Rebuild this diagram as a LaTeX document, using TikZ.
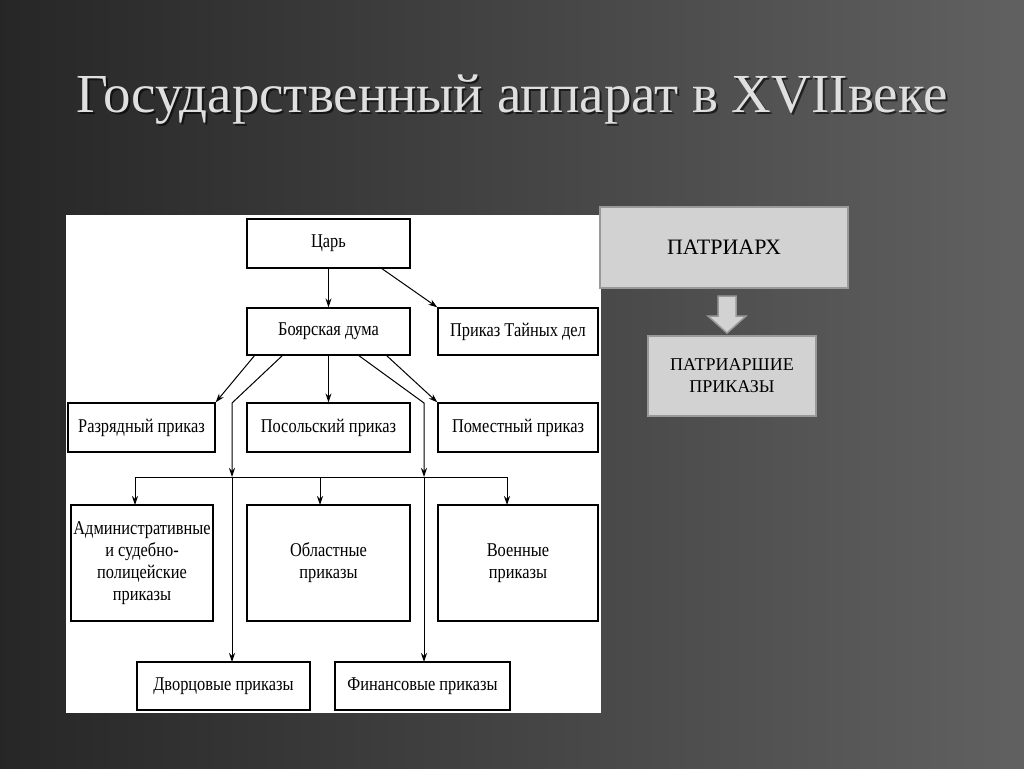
\documentclass[tikz,border=0pt]{standalone}
\usepackage{fontspec}
\setmainfont{Liberation Serif}
\newfontfamily\condf[FakeStretch=0.84]{Liberation Serif}
\usetikzlibrary{arrows.meta}
\begin{document}
\begin{tikzpicture}[x=1pt,y=-1pt,
 bx/.style={draw=black,line width=1.3pt,fill=white,inner sep=0pt,font=\condf\fontsize{19.5}{22}\selectfont,align=center},
 ar/.style={-{Stealth[length=9pt,width=6pt]},line width=1pt},
 pb/.style={draw=gray!80,line width=2pt,fill=gray!35,inner sep=0pt,font=\fontsize{22}{25}\selectfont,align=center}]
\shade[left color=black!85,right color=black!62] (0,0) rectangle (1024,768);
\useasboundingbox (0,0) rectangle (1024,768);
\node[text=black,opacity=0.6,font=\fontsize{55}{60}\selectfont] at (514,102) {Государственный аппарат в XVIIвеке};
\node[text=gray!25,font=\fontsize{55}{60}\selectfont] (title) at (512,100) {Государственный аппарат в XVIIвеке};
\fill[white] (66,215) rectangle (601,713);
\newcommand{\bb}[6]{\node[bx,minimum width=#3-#2,minimum height=#5-#4] (#1) at ({(#2+#3)/2},{(#4+#5)/2}) {#6};}
\bb{tsar}{247}{410}{219}{268}{Царь}
\bb{duma}{247}{410}{308}{355}{Боярская дума}
\bb{tain}{438}{598}{308}{355}{Приказ Тайных дел}
\bb{razr}{68}{215}{403}{452}{Разрядный приказ}
\bb{posol}{247}{410}{403}{452}{Посольский приказ}
\bb{pomest}{438}{598}{403}{452}{Поместный приказ}
\bb{adm}{71}{213}{505}{621}{Административные\\и судебно-\\полицейские\\приказы}
\bb{obl}{247}{410}{505}{621}{Областные\\приказы}
\bb{voen}{438}{598}{505}{621}{Военные\\приказы}
\bb{dvor}{137}{310}{662}{710}{Дворцовые приказы}
\bb{fin}{335}{510}{662}{710}{Финансовые приказы}
\coordinate (b1) at (232,477); \coordinate (b2) at (424,477);
\draw[ar] (tsar) -- (duma);
\draw[ar] (381,268) -- (tain.north west);
\draw[ar] (duma.south) -- (posol);
\draw[ar] (255,355) -- (razr.north east);
\draw[ar] (386,355) -- (pomest.north west);
\draw[ar] (283,355) -- (232,403) -- (b1);
\draw[ar] (358,355) -- (424,403) -- (b2);
\draw[ar] (b1) -- (232,662);
\draw[ar] (b2) -- (424,662);
\draw[line width=1pt] (135,477) -- (507,477);
\draw[ar] (135,477) -- (135,505);
\draw[ar] (320,477) -- (320,505);
\draw[ar] (507,477) -- (507,505);
\node[pb,minimum width=248,minimum height=81] (patr) at (724,247.5) {ПАТРИАРХ};
\node[pb,minimum width=168,minimum height=80,font=\fontsize{18}{22}\selectfont] (pp) at (732,376) {ПАТРИАРШИЕ\\ПРИКАЗЫ};
\draw[draw=gray!80,fill=gray!35,line width=1.5pt] (718,296) -- (736,296) -- (736,316) -- (746,316) -- (727,333) -- (708,316) -- (718,316) -- cycle;
\end{tikzpicture}
\end{document}
